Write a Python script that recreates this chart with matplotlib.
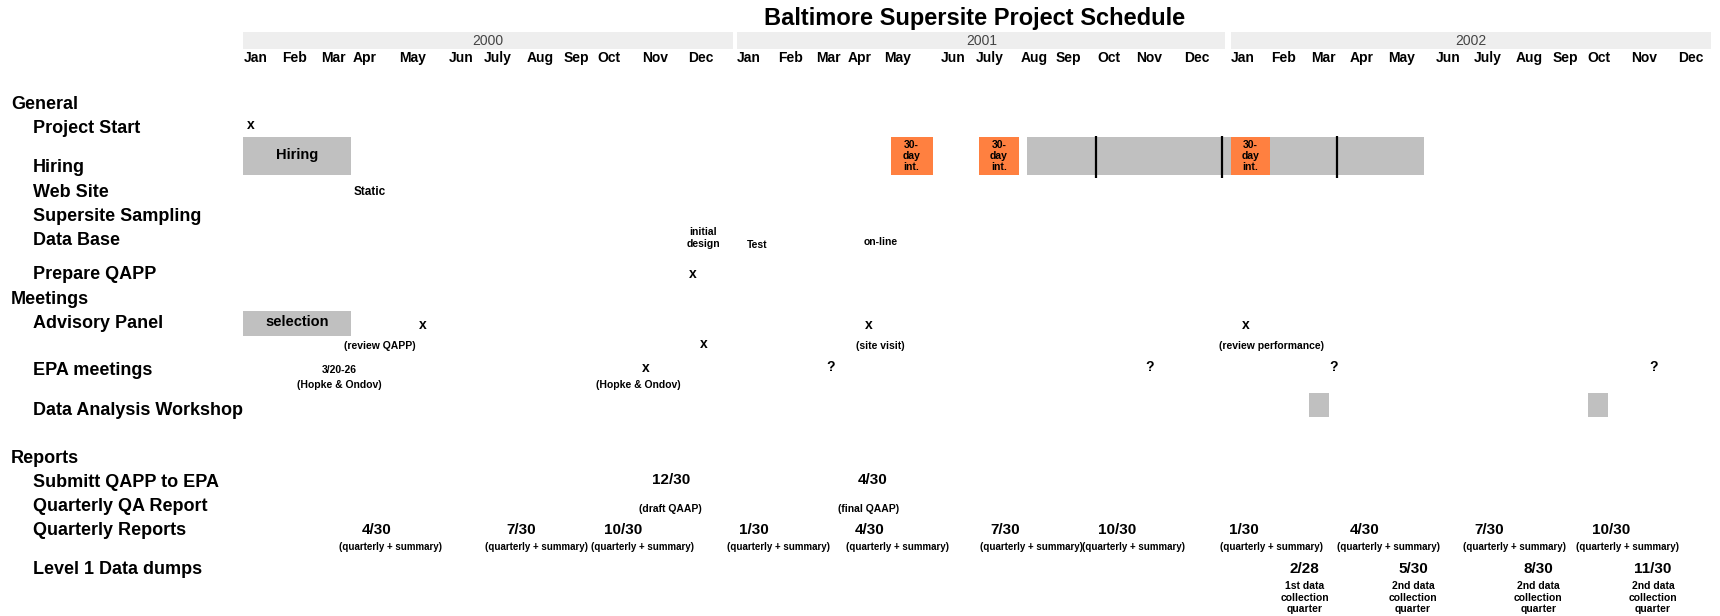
import matplotlib.pyplot as plt

plt.rcParams['font.family'] = ['Liberation Sans Narrow', 'Liberation Sans', 'DejaVu Sans']
plt.rcParams['font.weight'] = 'bold'

# x = months since Jan 2000, y = schedule row (General = 0, going down)
years = ['2000', '2001', '2002']
year_start = [0.0, 12.11, 24.21]
year_end = [12.0, 24.08, 36.0]

month_names = ['Jan', 'Feb', 'Mar', 'Apr', 'May', 'Jun', 'July', 'Aug', 'Sep', 'Oct', 'Nov', 'Dec'] * 3
month_at = [0, 0.94, 1.91, 2.69, 3.82, 5.03, 5.89, 6.94, 7.86, 8.69, 9.77, 10.90,
            12.11, 13.10, 14.04, 14.82, 15.71, 17.11, 17.97, 19.05, 19.91, 20.93, 21.90, 23.06,
            24.21, 25.21, 26.18, 27.12, 28.06, 29.24, 30.16, 31.21, 32.10, 32.96, 34.03, 35.19]

sections = ['General', 'Meetings', 'Reports']
section_rows = [0, 8.09, 14.68]
tasks = ['Project Start', 'Hiring', 'Web Site', 'Supersite Sampling', 'Data Base',
         'Prepare QAPP', 'Advisory Panel', 'EPA meetings', 'Data Analysis Workshop',
         'Submitt QAPP to EPA', 'Quarterly QA Report', 'Quarterly Reports', 'Level 1 Data dumps']
task_rows = [1, 2.64, 3.64, 4.64, 5.64, 7.05, 9.09, 11.05, 12.68, 15.68, 16.68, 17.68, 19.27]

# gray activity bars
gray_start = [0.0, 19.21, 0.0, 26.12, 32.98]
gray_end = [2.64, 28.95, 2.64, 26.61, 33.47]
gray_top = [1.36, 1.36, 8.55, 11.95, 11.95]
gray_bottom = [2.95, 2.95, 9.59, 12.95, 12.95]
gray_text = ['Hiring', '', 'selection', '', '']
hiring_dividers = [20.90, 24.00, 26.82]

# 30-day interim hires
interim_start = [15.87, 18.03, 24.21]
interim_end = [16.90, 19.02, 25.18]

# single "x" events
x_when = [0.19, 11.03, 4.39, 15.34, 24.59, 11.30, 9.87]
x_row = [0.86, 7.05, 9.14, 9.14, 9.14, 9.95, 10.95]

# EPA meetings still to be fixed
q_when = [14.39, 22.22, 26.74, 34.57]
q_row = 10.91

# small notes
note_text = ['(review QAPP)', '(site visit)', '(review performance)', '3/20-26',
             '(Hopke & Ondov)', '(Hopke & Ondov)', '(draft QAAP)', '(final QAAP)',
             'initial\ndesign', 'Test', 'on-line']
note_when = [3.34, 15.61, 25.21, 2.34, 2.34, 9.69, 10.47, 15.34, 11.27, 12.59, 15.63]
note_row = [10.0, 10.0, 10.0, 11.0, 11.64, 11.64, 16.77, 16.77, 5.55, 5.82, 5.73]

# QAPP submission dates
qapp_dates = ['12/30', '4/30']
qapp_when = [10.49, 15.42]

# quarterly reports
qr_dates = ['4/30', '7/30', '10/30', '1/30', '4/30', '7/30', '10/30', '1/30', '4/30', '7/30', '10/30']
qr_when = [3.26, 6.81, 9.31, 12.51, 15.36, 18.67, 21.42, 24.54, 27.50, 30.54, 33.55]
qr_note_when = [3.61, 7.18, 9.79, 13.13, 16.03, 19.32, 21.82, 25.21, 28.09, 31.18, 33.95]

# level 1 data dumps
dump_dates = ['2/28', '5/30', '8/30', '11/30']
dump_when = [26.02, 28.68, 31.75, 34.57]
dump_notes = ['1st data\ncollection\nquarter', '2nd data\ncollection\nquarter',
              '2nd data\ncollection\nquarter', '2nd data\ncollection\nquarter']

fig = plt.figure(figsize=(17.2, 6.16), dpi=100)
ax = fig.add_axes([0, 0, 1, 1])
ax.set_xlim(-5.97, 36.21)
ax.set_ylim(21.21, -4.32)
ax.axis('off')

ax.text(17.92, -3.55, 'Baltimore Supersite Project Schedule', fontsize=17, ha='center', va='center')

for y, s, e in zip(years, year_start, year_end):
    ax.barh(-2.635, e - s, left=s, height=0.73, color='#eeeeee')
    ax.text((s + e) / 2, -2.64, y, fontsize=10, fontweight='normal', color='#444444',
            ha='center', va='center')
for m, x in zip(month_names, month_at):
    ax.text(x, -1.91, m, fontsize=10, ha='left', va='center')

for s, r in zip(sections, section_rows):
    ax.text(-5.70, r, s, fontsize=13, ha='left', va='center')
for t, r in zip(tasks, task_rows):
    ax.text(-5.17, r, t, fontsize=13, ha='left', va='center')

for s, e, top, bot, lab in zip(gray_start, gray_end, gray_top, gray_bottom, gray_text):
    ax.barh((top + bot) / 2, e - s, left=s, height=bot - top, color='#c0c0c0', zorder=2)
    if lab:
        ax.text((s + e) / 2, (top + bot) / 2 - 0.05, lab, fontsize=10.5, ha='center', va='center', zorder=4)
ax.vlines(hiring_dividers, 1.30, 3.05, color='black', lw=1.6, zorder=3)

for s, e in zip(interim_start, interim_end):
    ax.barh(2.15, e - s, left=s, height=1.59, color='#ff8040', zorder=4)
    ax.text((s + e) / 2, 2.15, '30-\nday\nint.', fontsize=7.5, ha='center', va='center',
            linespacing=1.15, zorder=5)

ax.text(3.09, 3.64, 'Static', fontsize=8.5, ha='center', va='center')

for x, r in zip(x_when, x_row):
    ax.text(x, r, 'x', fontsize=10, ha='center', va='center')
for x in q_when:
    ax.text(x, q_row, '?', fontsize=10, ha='center', va='center')
for t, x, r in zip(note_text, note_when, note_row):
    ax.text(x, r, t, fontsize=7.5, ha='center', va='center', linespacing=1.2)

for t, x in zip(qapp_dates, qapp_when):
    ax.text(x, 15.59, t, fontsize=11, ha='center', va='center')
for t, x, xn in zip(qr_dates, qr_when, qr_note_when):
    ax.text(x, 17.64, t, fontsize=11, ha='center', va='center')
    ax.text(xn, 18.36, '(quarterly + summary)', fontsize=7, ha='center', va='center')
for t, x, n in zip(dump_dates, dump_when, dump_notes):
    ax.text(x, 19.27, t, fontsize=11, ha='center', va='center')
    ax.text(x, 20.45, n, fontsize=7.5, ha='center', va='center', linespacing=1.2)

fig.savefig('out.png', dpi=100)
